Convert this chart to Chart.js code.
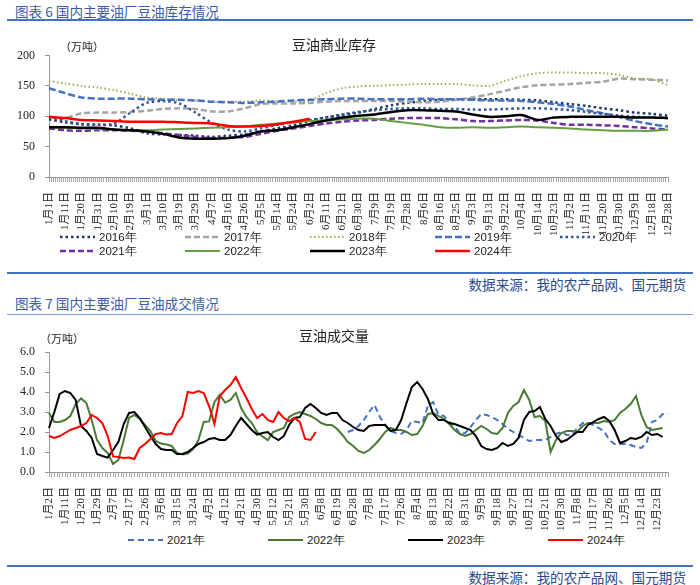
<!DOCTYPE html>
<html>
<head>
<meta charset="utf-8">
<script src="https://cdn.jsdelivr.net/npm/chart.js@4.4.1/dist/chart.umd.min.js"></script>
<style>
  body { margin:0; background:#fff; width:700px; height:585px; position:relative; overflow:hidden; font-family:"Noto Sans CJK SC", sans-serif; }
  .head { position:absolute; left:15px; font-size:13.6px; line-height:16px; color:#3b5ca6; }
  .rule { position:absolute; left:7px; width:686px; background:#4472c4; }
  .src { position:absolute; right:14px; font-size:13.6px; line-height:16px; color:#2b4a8b; }
  .unit { position:absolute; font-size:11px; line-height:14px; color:#222; }
  .box { position:absolute; left:0; width:700px; }
  .legend { position:absolute; display:flex; flex-wrap:wrap; font-family:"Liberation Sans", sans-serif; font-size:11.5px; color:#222; }
  .legend .item { display:flex; align-items:center; height:14px; }
  .legend svg { margin-right:4px; }
  #legend1 .item { width:125px; }
  #legend2 .item { width:140px; }
</style>
</head>
<body>
<div class="head" style="top:3px">图表 6 国内主要油厂豆油库存情况</div>
<div class="rule" style="top:19px;height:2px"></div>
<div class="box" style="top:22px;height:215px"><canvas id="stockChart" width="700" height="215"></canvas></div>
<div class="unit" style="left:60px;top:39px">（万吨）</div>
<div class="legend" id="legend1" style="left:60px;top:230px;width:625px"></div>
<div class="rule" style="top:272px;height:2px"></div>
<div class="src" style="top:276px">数据来源：我的农产品网、国元期货</div>

<div class="head" style="top:295px">图表 7 国内主要油厂豆油成交情况</div>
<div class="rule" style="top:314px;height:1px;background:#7f9fd0"></div>
<div class="box" style="top:318px;height:214px"><canvas id="dealChart" width="700" height="214"></canvas></div>
<div class="unit" style="left:40px;top:331px">（万吨）</div>
<div class="legend" id="legend2" style="left:128px;top:533px;width:560px"></div>
<div class="rule" style="top:565px;height:2px"></div>
<div class="src" style="top:569px">数据来源：我的农产品网、国元期货</div>

<script>
// 豆油商业库存 (万吨)
const stockDates = ['1月1日','1月11日','1月20日','1月31日','2月10日','2月19日','3月1日','3月10日','3月19日','3月29日','4月7日','4月16日','4月26日','5月5日','5月14日','5月24日','6月2日','6月11日','6月21日','6月30日','7月9日','7月19日','7月28日','8月6日','8月16日','8月25日','9月3日','9月13日','9月22日','10月4日','10月14日','10月23日','11月2日','11月11日','11月20日','11月30日','12月9日','12月18日','12月28日'];
const stock2016 = [95,90,87,86,85,80,72,70,69,68,66,68,70,75,80,85,92,98,102,106,112,118,122,125,127,128,128,128,128,127,126,123,120,117,113,110,106,104,101];
const stock2017 = [99,97,105,106,106,107,109,112,113,112,108,108,113,120,121,121,122,124,125,125,125,125,124,123,124,127,131,136,142,148,151,152,153,155,157,162,161,160,159];
const stock2018 = [158,154,150,147,143,137,131,129,127,126,124,124,124,126,125,124,126,138,146,149,150,151,152,153,153,153,151,150,158,166,171,172,172,171,171,168,162,161,151];
const stock2019 = [146,138,131,129,129,129,128,127,127,126,124,123,122,123,124,126,127,128,129,129,128,128,128,129,128,128,127,126,126,125,123,120,116,110,105,99,92,87,83];
const stock2020 = [99,92,87,86,88,106,122,125,121,106,89,78,75,80,86,90,94,98,103,107,110,112,113,113,112,112,111,111,112,113,113,112,110,107,104,101,99,98,97];
const stock2021 = [80,77,76,77,77,76,75,72,69,66,64,65,66,71,76,80,84,88,91,93,94,96,97,97,97,95,92,92,93,94,93,89,86,86,85,84,82,80,78];
const stock2022 = [82,81,80,79,78,77,77,78,79,80,81,82,83,86,88,90,92,93,95,96,96,92,89,86,82,81,82,81,82,83,82,81,80,78,77,76,76,76,78];
const stock2023 = [82,82,81,81,78,77,75,71,65,63,63,64,68,75,77,82,87,93,98,101,103,107,110,110,109,108,103,99,100,102,94,98,99,99,99,99,98,98,97];
const stock2024 = [99,97,94,93,92,91,91,91,90,89,88,84,83,84,87,91,96];

// 豆油成交量 (万吨), three points per date label
const dealDates = ['1月2日','1月11日','1月20日','1月29日','2月7日','2月17日','2月26日','3月6日','3月15日','3月24日','4月2日','4月12日','4月21日','4月30日','5月12日','5月21日','5月30日','6月8日','6月19日','6月28日','7月8日','7月17日','7月26日','8月4日','8月13日','8月22日','8月31日','9月9日','9月18日','9月27日','10月12日','10月21日','10月30日','11月8日','11月17日','11月26日','12月5日','12月14日','12月23日'];
const deal2021 = [null,null,null,null,null,null,null,null,null,null,null,null,null,null,null,null,null,null,null,null,
  null,null,null,null,null,null,null,null,null,null,null,null,null,null,null,null,null,null,null,null,
  null,null,null,null,null,null,null,null,null,null,null,null,null,null,null,null,
  2.0,2.1,2.3,2.6,3.0,3.35,2.75,2.35,2.05,1.95,1.9,2.1,2.55,2.5,2.45,3.3,3.5,2.85,2.8,2.5,
  2.3,1.9,1.95,2.25,2.6,2.9,2.85,2.75,2.6,2.4,2.15,2.0,1.85,1.7,1.55,1.6,1.6,1.6,1.75,1.9,
  2.0,1.85,1.85,2.2,2.45,2.45,2.35,2.2,2.05,1.6,1.4,1.4,1.4,1.35,1.25,1.2,1.45,2.5,2.6,2.9,2.9];
const deal2022 = [2.95,2.5,2.5,2.6,2.8,3.4,3.68,3.45,2.6,1.6,1.2,0.95,0.4,0.6,1.6,2.7,2.85,2.65,2.35,2.05,
  1.55,1.42,1.37,1.3,0.95,0.88,0.92,1.15,1.6,2.5,2.53,3.5,3.85,3.47,3.6,3.95,3.2,2.75,2.45,2.0,
  1.78,1.6,2.0,2.1,2.2,2.75,2.9,3.0,2.9,2.8,2.65,2.45,2.35,2.35,2.15,1.85,1.5,1.3,1.05,0.95,
  1.1,1.35,1.65,2.0,2.2,2.1,2.1,2.0,1.85,1.9,2.3,2.9,2.95,2.8,2.65,2.4,2.1,1.9,1.8,1.9,
  2.1,2.3,2.15,1.95,1.9,2.2,2.95,3.3,3.5,4.1,3.6,2.75,2.8,2.55,1.0,1.6,1.95,2.05,2.05,2.0,
  2.3,2.45,2.45,2.45,2.55,2.5,2.6,2.95,3.15,3.4,3.8,2.85,2.25,2.1,2.15,2.2,null];
const deal2023 = [2.2,3.0,3.9,4.05,3.95,3.6,2.3,2.05,1.7,0.9,0.8,0.72,1.1,1.5,2.4,2.95,3.0,2.7,2.25,1.8,
  1.4,1.15,1.1,1.1,0.9,0.9,1.0,1.2,1.4,1.5,1.65,1.7,1.6,1.6,1.85,2.3,2.7,2.4,2.1,1.87,
  1.95,2.0,1.75,1.6,1.8,2.35,2.7,2.75,3.2,3.4,3.2,2.95,2.85,2.95,2.95,2.6,2.45,2.25,2.1,2.05,
  2.3,2.35,2.35,2.35,2.05,2.1,2.6,3.45,4.25,4.5,4.15,3.65,2.9,2.6,2.6,2.45,2.4,2.3,2.2,2.1,
  1.8,1.3,1.15,1.1,1.2,1.45,1.3,1.4,1.7,2.6,3.0,3.05,3.25,2.65,2.3,1.8,1.5,1.6,1.8,2.0,
  2.0,2.35,2.5,2.65,2.75,2.55,2.1,1.45,1.55,1.7,1.65,1.75,2.0,1.85,1.9,1.75,null];
const deal2024 = [1.8,1.7,1.8,1.95,2.1,2.2,2.3,2.45,2.85,2.7,2.45,1.8,0.78,0.75,0.7,0.72,0.65,1.2,1.4,1.65,
  1.9,1.95,1.87,1.9,2.45,2.8,4.0,3.95,4.05,3.95,3.3,2.4,3.8,4.1,4.35,4.75,4.2,3.7,3.15,2.7,
  2.9,2.6,2.5,3.0,2.7,2.55,2.7,2.5,1.65,1.6,2.0];

const dealLabels = deal2022.map((_, i) => i % 3 === 0 ? (dealDates[i / 3] || '') : '');

const serif = "'Liberation Serif', 'Noto Sans CJK SC', serif";

function line(label, data, color, width, dash, order, tension) {
  return { label, data, borderColor: color, backgroundColor: color, borderWidth: width,
    borderDash: dash, pointRadius: 0, fill: false, tension: tension, order: order };
}

function axes(labelCount, yMax, yStep, fmt, denseStep) {
  return {
    x: {
      weight: 1,
      ticks: { autoSkip: false, minRotation: 90, maxRotation: 90, padding: 2, color: '#222',
               font: { family: serif, size: 11 } },
      grid: { display: false }, border: { display: false },
      afterFit(s) { s.height = 55; }
    },
    xd: {
      type: 'linear', position: 'bottom', weight: 0, min: 0, max: labelCount - 1,
      ticks: { display: false, stepSize: denseStep },
      grid: { drawOnChartArea: false, tickLength: 5, color: '#a6a6a6' },
      border: { color: '#999' }
    },
    y: {
      min: 0, max: yMax,
      ticks: { stepSize: yStep, padding: 10, color: '#222', font: { family: serif, size: 12 }, callback: fmt },
      grid: { drawOnChartArea: false, tickLength: 4, color: '#999' },
      border: { color: '#999' },
      afterFit(s) { s.width = 49; }
    }
  };
}

function titleOpts(text, top, bottom) {
  return { display: true, text: text, color: '#222',
    font: { family: "'Noto Sans CJK SC'", size: 14, weight: 'normal' },
    padding: { top: top, bottom: bottom } };
}

const stockChart = new Chart(document.getElementById('stockChart'), {
  type: 'line',
  data: {
    labels: stockDates,
    datasets: [
      line('2016年', stock2016, '#203864', 2.5, [2.5, 3], 10, 0.3),
      line('2017年', stock2017, '#a5a5a5', 2.5, [6, 3], 9, 0.3),
      line('2018年', stock2018, '#a8a85a', 2, [1.5, 2.5], 8, 0.3),
      line('2019年', stock2019, '#4472c4', 2.5, [7, 3], 7, 0.3),
      line('2020年', stock2020, '#2f5597', 2.5, [2.5, 3], 6, 0.3),
      line('2021年', stock2021, '#7030a0', 2.5, [6, 3], 5, 0.3),
      line('2022年', stock2022, '#62a043', 2, [], 4, 0.3),
      line('2023年', stock2023, '#000000', 2.5, [], 3, 0.3),
      line('2024年', stock2024, '#ff0000', 2.5, [], 2, 0.3)
    ]
  },
  options: {
    responsive: false, animation: false,
    layout: { padding: { left: 0, right: 32, top: 0, bottom: 0 } },
    plugins: { legend: { display: false }, tooltip: { enabled: false },
      title: titleOpts('豆油商业库存', 14.6, 2.1) },
    scales: axes(stockDates.length, 200, 50, v => v, 0.125)
  }
});

const dealChart = new Chart(document.getElementById('dealChart'), {
  type: 'line',
  data: {
    labels: dealLabels,
    datasets: [
      line('2021年', deal2021, '#4472c4', 2, [6, 4], 5, 0),
      line('2022年', deal2022, '#4a7a36', 2, [], 4, 0),
      line('2023年', deal2023, '#000000', 2, [], 3, 0),
      line('2024年', deal2024, '#ff0000', 2, [], 2, 0)
    ]
  },
  options: {
    responsive: false, animation: false,
    layout: { padding: { left: 0, right: 32, top: 0, bottom: 0 } },
    plugins: { legend: { display: false }, tooltip: { enabled: false },
      title: titleOpts('豆油成交量', 9.6, 7.6) },
    scales: axes(dealLabels.length, 6, 1, v => v.toFixed(1), 0.5)
  }
});

// legend built from the datasets
function drawLegend(id, chart) {
  const box = document.getElementById(id);
  chart.data.datasets.forEach(ds => {
    const item = document.createElement('span');
    item.className = 'item';
    const dash = ds.borderDash && ds.borderDash.length ? ds.borderDash.join(' ') : 'none';
    item.innerHTML = `<svg width="35" height="6"><line x1="0" y1="3" x2="35" y2="3" stroke="${ds.borderColor}" stroke-width="${ds.borderWidth}" stroke-dasharray="${dash}"/></svg><span>${ds.label}</span>`;
    box.appendChild(item);
  });
}
drawLegend('legend1', stockChart);
drawLegend('legend2', dealChart);
</script>
</body>
</html>
